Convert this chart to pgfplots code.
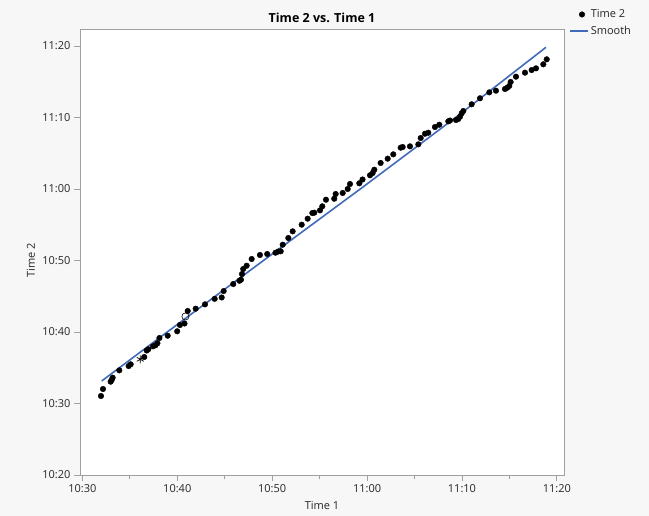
\documentclass[border=0pt]{standalone}
\usepackage{fontspec}
\setmainfont{Open Sans}
\usepackage{pgfplots}
\pgfplotsset{compat=1.18}
\definecolor{bg}{RGB}{247,247,247}
\definecolor{framec}{RGB}{160,160,160}
\definecolor{smoothc}{RGB}{66,106,186}
\definecolor{txt}{RGB}{38,38,38}
\begin{document}
\begin{tikzpicture}
\path[use as bounding box, fill=bg] (0,0) rectangle (649bp,516bp);
\begin{axis}[
  at={(80bp,41bp)}, anchor=south west,
  scale only axis, width=484bp, height=446bp,
  xmin=29.75, xmax=80.75, ymin=20, ymax=82.38,
  axis background/.style={fill=white},
  axis line style={framec, line width=0.8bp},
  xtick={30,40,50,60,70,80},
  xticklabels={10:30,10:40,10:50,11:00,11:10,11:20},
  minor xtick={35,45,55,65,75},
  ytick={20,30,40,50,60,70,80},
  yticklabels={10:20,10:30,10:40,10:50,11:00,11:10,11:20},
  tick align=outside, xtick pos=bottom, ytick pos=left,
  major tick length=6bp, minor tick length=4bp,
  every tick/.style={framec, line width=0.8bp},
  ticklabel style={font=\fontsize{11bp}{13bp}\selectfont, text=txt},
  legend style={at={(1,1)}, anchor=north west, xshift=4bp, yshift=22.5bp,
    draw=none, fill=none, inner sep=1bp, row sep=3bp,
    font=\fontsize{11bp}{13bp}\selectfont, text=txt, cells={anchor=west}},
  legend image code/.code={\draw[mark repeat=2,mark phase=2,#1] plot coordinates {(0bp,0bp) (12bp,0bp) (18bp,0bp)};},
  clip=false,
]
\addplot[only marks, mark=*, mark size=2.8bp, black] table {
x y
31.96 31.05
32.17 32.03
32.98 33.05
33.09 33.29
33.19 33.61
33.89 34.64
34.88 35.24
35.09 35.48
36.52 36.50
36.78 37.41
36.94 37.58
37.44 38.00
37.70 38.14
37.91 38.42
38.12 39.16
38.99 39.48
39.99 40.10
40.28 40.98
40.76 41.19
41.10 42.94
41.94 43.26
42.92 43.87
43.94 44.64
44.68 44.83
44.89 45.73
45.90 46.71
46.55 47.17
46.71 47.31
46.82 48.11
46.95 48.81
47.31 49.27
47.84 50.21
48.71 50.77
49.48 50.91
50.35 51.09
50.64 51.26
50.90 51.29
51.11 52.21
51.70 53.15
52.16 54.08
53.11 55.01
53.74 55.85
54.23 56.64
54.44 56.69
55.04 57.02
55.28 57.58
55.67 58.50
56.54 58.64
56.69 59.30
57.43 59.44
57.96 60.00
58.20 60.70
59.18 60.80
59.52 61.33
60.31 61.92
60.59 62.24
60.76 62.70
61.43 63.64
62.17 64.24
62.76 64.85
63.54 65.78
63.75 65.87
64.52 65.97
65.40 66.25
65.65 67.13
66.10 67.73
66.45 67.87
67.15 68.67
67.61 68.99
68.56 69.47
68.74 69.58
69.37 69.65
69.61 69.79
69.79 70.11
69.97 70.59
70.14 70.91
71.02 71.85
71.90 72.69
72.88 73.52
73.58 73.75
74.53 73.99
74.77 74.17
74.98 74.41
75.13 74.97
75.69 75.71
76.64 76.27
77.34 76.64
77.80 76.88
78.57 77.44
78.93 78.14
};
\addlegendentry{Time 2}
\addplot[smoothc, line width=1.6bp] table {
x y
32.04 33.15
41.34 42.38
50.29 51.19
59.78 60.49
69.26 69.93
78.85 79.82
};
\addlegendentry{Smooth}
\addplot[forget plot, only marks, mark=asterisk, mark size=4bp, black, line width=0.7bp] table {
x y
36.10 36.18
};
\addplot[forget plot, only marks, mark=o, mark size=3.6bp, black, line width=0.6bp] table {
x y
40.86 42.17
};
\end{axis}
\node[font=\bfseries\fontsize{12.5bp}{14bp}\selectfont, text=black] at (322bp,498bp) {Time 2 vs. Time 1};
\node[font=\fontsize{11bp}{13bp}\selectfont, text=txt] at (322bp,10bp) {Time 1};
\node[font=\fontsize{11bp}{13bp}\selectfont, text=txt, rotate=90] at (31bp,256bp) {Time 2};
\end{tikzpicture}
\end{document}
